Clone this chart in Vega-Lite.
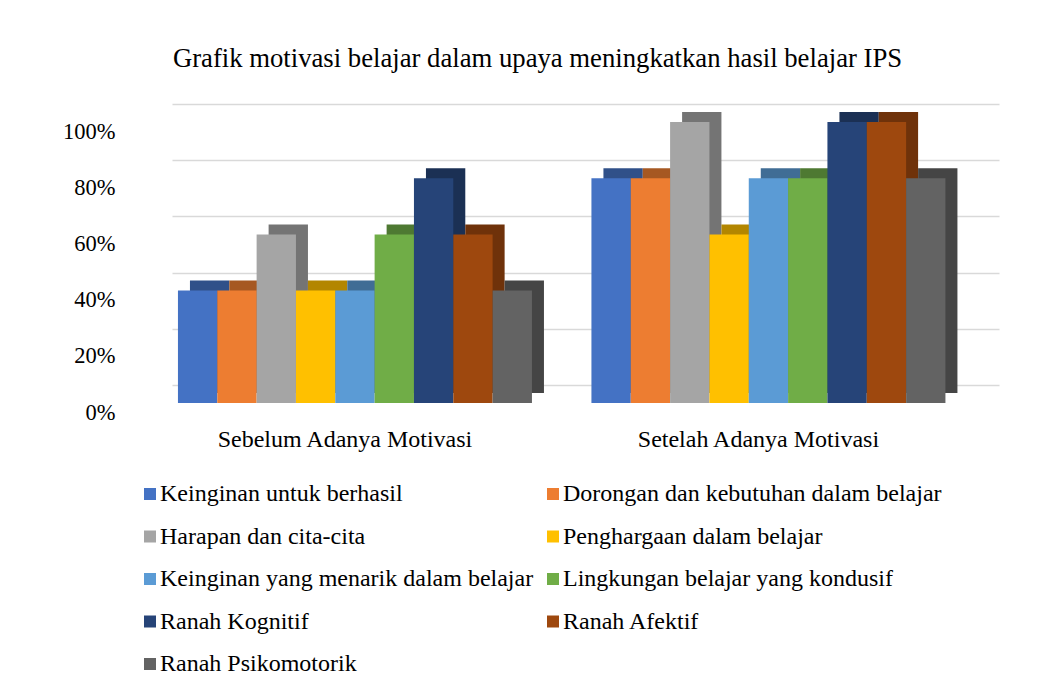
{
  "$schema": "https://vega.github.io/schema/vega-lite/v6.json",
  "width": 827,
  "height": 281,
  "autosize": {"type": "none"},
  "padding": {"left": 172, "top": 104, "right": 54, "bottom": 304},
  "background": "white",
  "title": {
    "text": "Grafik motivasi belajar dalam upaya meningkatkan hasil belajar IPS",
    "font": "Liberation Serif",
    "fontSize": 26.7,
    "fontWeight": "normal",
    "color": "black",
    "anchor": "middle",
    "frame": "group",
    "baseline": "alphabetic",
    "offset": 10,
    "dx": -48
  },
  "data": {
    "values": [
      {"kelompok": "Sebelum Adanya Motivasi", "indikator": "Keinginan untuk berhasil", "nilai": 40},
      {"kelompok": "Sebelum Adanya Motivasi", "indikator": "Dorongan dan kebutuhan dalam belajar", "nilai": 40},
      {"kelompok": "Sebelum Adanya Motivasi", "indikator": "Harapan dan cita-cita", "nilai": 60},
      {"kelompok": "Sebelum Adanya Motivasi", "indikator": "Penghargaan dalam belajar", "nilai": 40},
      {"kelompok": "Sebelum Adanya Motivasi", "indikator": "Keinginan yang menarik dalam belajar", "nilai": 40},
      {"kelompok": "Sebelum Adanya Motivasi", "indikator": "Lingkungan belajar yang kondusif", "nilai": 60},
      {"kelompok": "Sebelum Adanya Motivasi", "indikator": "Ranah Kognitif", "nilai": 80},
      {"kelompok": "Sebelum Adanya Motivasi", "indikator": "Ranah Afektif", "nilai": 60},
      {"kelompok": "Sebelum Adanya Motivasi", "indikator": "Ranah Psikomotorik", "nilai": 40},
      {"kelompok": "Setelah Adanya Motivasi", "indikator": "Keinginan untuk berhasil", "nilai": 80},
      {"kelompok": "Setelah Adanya Motivasi", "indikator": "Dorongan dan kebutuhan dalam belajar", "nilai": 80},
      {"kelompok": "Setelah Adanya Motivasi", "indikator": "Harapan dan cita-cita", "nilai": 100},
      {"kelompok": "Setelah Adanya Motivasi", "indikator": "Penghargaan dalam belajar", "nilai": 60},
      {"kelompok": "Setelah Adanya Motivasi", "indikator": "Keinginan yang menarik dalam belajar", "nilai": 80},
      {"kelompok": "Setelah Adanya Motivasi", "indikator": "Lingkungan belajar yang kondusif", "nilai": 80},
      {"kelompok": "Setelah Adanya Motivasi", "indikator": "Ranah Kognitif", "nilai": 100},
      {"kelompok": "Setelah Adanya Motivasi", "indikator": "Ranah Afektif", "nilai": 100},
      {"kelompok": "Setelah Adanya Motivasi", "indikator": "Ranah Psikomotorik", "nilai": 80}
    ]
  },
  "encoding": {
    "x": {
      "field": "kelompok",
      "type": "nominal",
      "sort": ["Sebelum Adanya Motivasi", "Setelah Adanya Motivasi"],
      "scale": {"paddingInner": 0.1439, "paddingOuter": 0.072, "align": 0.1},
      "axis": {
        "title": null,
        "domain": false,
        "ticks": false,
        "labelAngle": 0,
        "labelFont": "Liberation Serif",
        "labelFontSize": 24,
        "labelColor": "black",
        "labelBaseline": "alphabetic",
        "labelPadding": 61,
        "labelOffset": -10,
        "labelLimit": 0
      }
    },
    "y": {
      "field": "nilai",
      "type": "quantitative",
      "scale": {"domain": [0, 100]},
      "axis": {
        "title": null,
        "values": [0, 20, 40, 60, 80, 100],
        "labelExpr": "datum.value + '%'",
        "domain": false,
        "ticks": false,
        "grid": true,
        "gridColor": "#D9D9D9",
        "gridWidth": 1.5,
        "labelFont": "Liberation Serif",
        "labelFontSize": 22.5,
        "labelColor": "black",
        "labelPadding": 57,
        "labelOffset": 27
      }
    }
  },
  "layer": [
    {
      "mark": {"type": "bar", "yOffset": 8, "y2Offset": 8},
      "encoding": {
        "xOffset": {
          "field": "indikator",
          "type": "nominal",
          "sort": ["Keinginan untuk berhasil", "Dorongan dan kebutuhan dalam belajar", "Harapan dan cita-cita", "Penghargaan dalam belajar", "Keinginan yang menarik dalam belajar", "Lingkungan belajar yang kondusif", "Ranah Kognitif", "Ranah Afektif", "Ranah Psikomotorik"],
          "scale": {"paddingInner": 0, "paddingOuter": 0, "range": [12, 366]}
        },
        "color": {
          "field": "indikator",
          "type": "nominal",
          "scale": {
            "domain": ["Keinginan untuk berhasil", "Dorongan dan kebutuhan dalam belajar", "Harapan dan cita-cita", "Penghargaan dalam belajar", "Keinginan yang menarik dalam belajar", "Lingkungan belajar yang kondusif", "Ranah Kognitif", "Ranah Afektif", "Ranah Psikomotorik"],
            "range": ["#305089", "#A65822", "#747474", "#B38600", "#406D95", "#4E7932", "#1B3054", "#6F320A", "#454545"]
          },
          "legend": null
        }
      }
    },
    {
      "mark": {"type": "bar", "yOffset": 18, "y2Offset": 18},
      "encoding": {
        "xOffset": {
          "field": "indikator",
          "type": "nominal",
          "sort": ["Keinginan untuk berhasil", "Dorongan dan kebutuhan dalam belajar", "Harapan dan cita-cita", "Penghargaan dalam belajar", "Keinginan yang menarik dalam belajar", "Lingkungan belajar yang kondusif", "Ranah Kognitif", "Ranah Afektif", "Ranah Psikomotorik"],
          "scale": {"paddingInner": 0, "paddingOuter": 0, "range": [0, 354]}
        },
        "color": {
          "field": "indikator",
          "type": "nominal",
          "scale": {
            "domain": ["Keinginan untuk berhasil", "Dorongan dan kebutuhan dalam belajar", "Harapan dan cita-cita", "Penghargaan dalam belajar", "Keinginan yang menarik dalam belajar", "Lingkungan belajar yang kondusif", "Ranah Kognitif", "Ranah Afektif", "Ranah Psikomotorik"],
            "range": ["#4472C4", "#ED7D31", "#A5A5A5", "#FFC000", "#5B9BD5", "#70AD47", "#264478", "#9E480E", "#636363"]
          },
          "legend": {
            "title": null,
            "orient": "none",
            "direction": "horizontal",
            "legendX": -34,
            "legendY": 378,
            "columns": 2,
            "columnPadding": 7,
            "rowPadding": 18.5,
            "symbolType": "square",
            "symbolSize": 144,
            "symbolStrokeWidth": 0,
            "labelFont": "Liberation Serif",
            "labelFontSize": 24,
            "labelColor": "black",
            "labelOffset": -2,
            "labelLimit": 600,
            "padding": 0
          }
        }
      }
    }
  ],
  "resolve": {"scale": {"color": "independent", "xOffset": "independent"}},
  "config": {"view": {"stroke": null}}
}
